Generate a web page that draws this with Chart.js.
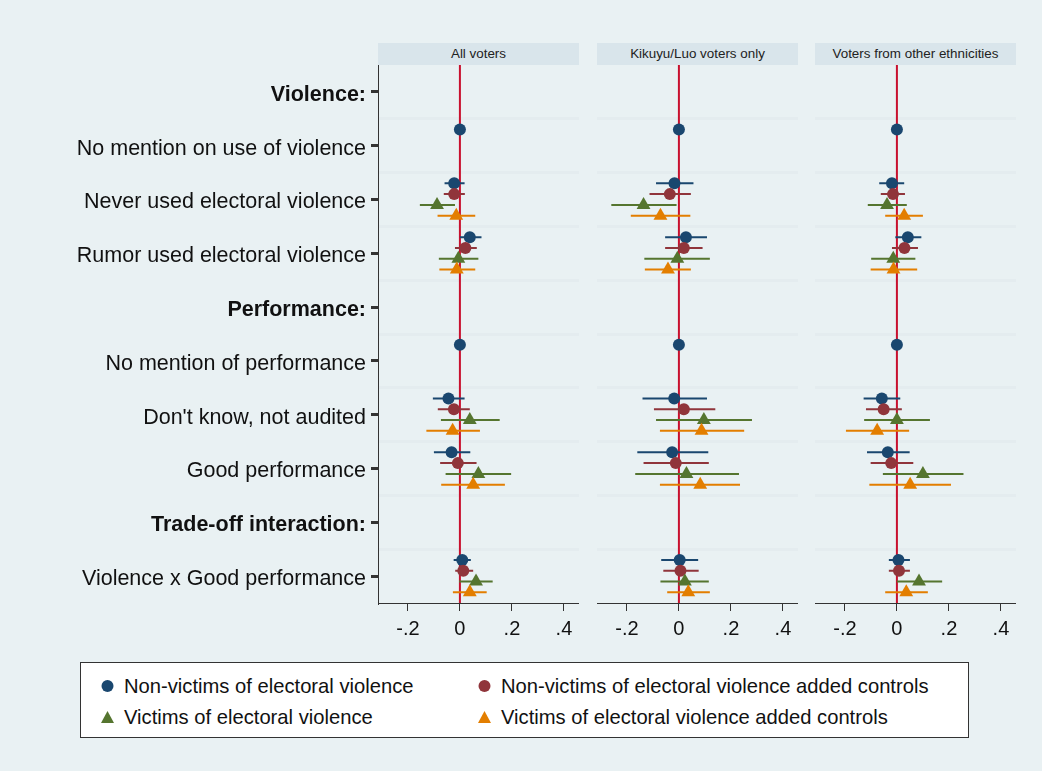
<!DOCTYPE html>
<html>
<head>
<meta charset="utf-8">
<script src="https://cdn.jsdelivr.net/npm/chart.js@4.4.1/dist/chart.umd.min.js"></script>
<style>
body { margin: 0; background: #e9f1f3; font-family: "Liberation Sans", Arial, sans-serif; }
#wrap { position: relative; width: 1042px; height: 771px; overflow: hidden; }
canvas { position: absolute; top: 65px; }
.head { position: absolute; top: 43px; height: 22px; line-height: 22px; width: 201px; background: #d9e5eb;
  text-align: center; font-size: 13.4px; color: #222; }
#legend { position: absolute; left: 80px; top: 662px; width: 887px; height: 74px; background: #fff; border: 1px solid #333; }
.item { position: absolute; height: 24px; line-height: 24px; font-size: 20.2px; color: #111; white-space: nowrap; }
.item svg { position: absolute; left: -23px; top: 6px; }
</style>
</head>
<body>
<div id="wrap">
  <div class="head" style="left:378px">All voters</div>
  <div class="head" style="left:597px">Kikuyu/Luo voters only</div>
  <div class="head" style="left:815px">Voters from other ethnicities</div>
  <canvas id="p1" width="579" height="578" style="left:0px"></canvas>
  <canvas id="p2" width="201" height="578" style="left:597px"></canvas>
  <canvas id="p3" width="201" height="578" style="left:815px"></canvas>
  <div id="legend"></div>
</div>
<script>
'use strict';

let rowLabels = ['Violence:', 'No mention on use of violence', 'Never used electoral violence', 'Rumor used electoral violence',
    'Performance:', 'No mention of performance', "Don't know, not audited", 'Good performance',
    'Trade-off interaction:', 'Violence x Good performance'];
let headerRows = [0, 4, 8];
let seriesNames = ['Non-victims of electoral violence', 'Non-victims of electoral violence added controls',
    'Victims of electoral violence', 'Victims of electoral violence added controls'];
let seriesColors = ['#1a476f', '#90353b', '#55752f', '#e37e00'];
let seriesShapes = ['circle', 'circle', 'triangle', 'triangle'];
let offsets = [-0.3, -0.1, 0.1, 0.3];
let xTicks = [-0.2, 0, 0.2, 0.4];
let xTickLabels = ['-.2', '0', '.2', '.4'];
let refValue = 0;

// All voters: [non-victims, non-victims ctrl, victims, victims ctrl]
let allEst = [
    [null, 0, -0.022, 0.038, null, 0, -0.044, -0.032, null, 0.009],
    [null, null, -0.022, 0.021, null, null, -0.023, -0.008, null, 0.013],
    [null, null, -0.088, -0.006, null, null, 0.038, 0.071, null, 0.062],
    [null, null, -0.014, -0.012, null, null, -0.028, 0.051, null, 0.038]];
let allLo = [
    [null, null, -0.059, 0.0, null, null, -0.104, -0.1, null, -0.024],
    [null, null, -0.062, -0.019, null, null, -0.085, -0.076, null, -0.018],
    [null, null, -0.154, -0.081, null, null, -0.073, -0.055, null, -0.003],
    [null, null, -0.086, -0.079, null, null, -0.129, -0.072, null, -0.027]];
let allHi = [
    [null, null, 0.018, 0.083, null, null, 0.018, 0.04, null, 0.042],
    [null, null, 0.019, 0.065, null, null, 0.038, 0.064, null, 0.051],
    [null, null, -0.019, 0.071, null, null, 0.153, 0.197, null, 0.126],
    [null, null, 0.059, 0.059, null, null, 0.077, 0.173, null, 0.103]];

// Kikuyu/Luo voters only
let kikEst = [
    [null, 0, -0.017, 0.027, null, 0, -0.018, -0.026, null, 0.003],
    [null, null, -0.035, 0.019, null, null, 0.019, -0.012, null, 0.006],
    [null, null, -0.136, -0.006, null, null, 0.096, 0.029, null, 0.023],
    [null, null, -0.071, -0.042, null, null, 0.087, 0.082, null, 0.036]];
let kikLo = [
    [null, null, -0.088, -0.053, null, null, -0.14, -0.16, null, -0.068],
    [null, null, -0.113, -0.053, null, null, -0.096, -0.136, null, -0.06],
    [null, null, -0.26, -0.133, null, null, -0.088, -0.168, null, -0.071],
    [null, null, -0.185, -0.131, null, null, -0.073, -0.073, null, -0.045]];
let kikHi = [
    [null, null, 0.056, 0.108, null, null, 0.108, 0.113, null, 0.074],
    [null, null, 0.046, 0.091, null, null, 0.14, 0.115, null, 0.076],
    [null, null, -0.009, 0.119, null, null, 0.281, 0.231, null, 0.115],
    [null, null, 0.044, 0.046, null, null, 0.251, 0.235, null, 0.119]];

// Voters from other ethnicities
let othEst = [
    [null, 0, -0.019, 0.042, null, 0, -0.058, -0.035, null, 0.006],
    [null, null, -0.015, 0.029, null, null, -0.051, -0.022, null, 0.008],
    [null, null, -0.038, -0.014, null, null, 0.0, 0.1, null, 0.085],
    [null, null, 0.028, -0.013, null, null, -0.076, 0.051, null, 0.036]];
let othLo = [
    [null, null, -0.068, -0.006, null, null, -0.128, -0.115, null, -0.031],
    [null, null, -0.062, -0.019, null, null, -0.119, -0.101, null, -0.031],
    [null, null, -0.112, -0.099, null, null, -0.126, -0.054, null, 0.0],
    [null, null, -0.045, -0.101, null, null, -0.196, -0.106, null, -0.045]];
let othHi = [
    [null, null, 0.028, 0.094, null, null, 0.013, 0.049, null, 0.05],
    [null, null, 0.031, 0.081, null, null, 0.019, 0.063, null, 0.05],
    [null, null, 0.038, 0.071, null, null, 0.127, 0.256, null, 0.174],
    [null, null, 0.1, 0.078, null, null, 0.047, 0.208, null, 0.119]];

let fontFamily = '"Liberation Sans", Arial, sans-serif';

let zeroLine = {
    id: 'zeroLine',
    beforeDatasetsDraw(chart) {
        let x = chart.scales.x.getPixelForValue(refValue);
        let ctx = chart.ctx;
        ctx.save();
        ctx.strokeStyle = '#c8102e';
        ctx.lineWidth = 2;
        ctx.beginPath();
        ctx.moveTo(x, chart.chartArea.top);
        ctx.lineTo(x, chart.chartArea.bottom);
        ctx.stroke();
        ctx.restore();
    }
};

function makeDatasets(est, lo, hi) {
    let sets = [];
    for (let s = 0; s < est.length; s++) {
        let ci = [];
        let pts = [];
        for (let r = 0; r < rowLabels.length; r++) {
            let y = r + 1 + offsets[s];
            if (est[s][r] !== null) pts.push({ x: est[s][r], y: y });
            if (lo[s][r] !== null) {
                ci.push({ x: lo[s][r], y: y }, { x: hi[s][r], y: y }, { x: hi[s][r], y: null });
            }
        }
        sets.push({
            data: ci, showLine: true, spanGaps: false, borderColor: seriesColors[s], borderWidth: 2,
            pointRadius: 0, order: 20 - s * 2
        });
        sets.push({
            data: pts, showLine: false, backgroundColor: seriesColors[s], borderColor: seriesColors[s], borderWidth: 0,
            pointStyle: seriesShapes[s], pointRadius: seriesShapes[s] === 'circle' ? 6 : 8, order: 19 - s * 2
        });
    }
    return sets;
}

function drawPanel(id, est, lo, hi, showLabels) {
    let ctx = document.getElementById(id).getContext('2d');
    new Chart(ctx, {
        type: 'scatter',
        data: { datasets: makeDatasets(est, lo, hi) },
        plugins: [zeroLine],
        options: {
            responsive: false,
            animation: false,
            devicePixelRatio: 1,
            layout: { padding: 0, autoPadding: false },
            plugins: { legend: { display: false }, tooltip: { enabled: false } },
            scales: {
                x: {
                    type: 'linear', min: -0.315, max: 0.458,
                    afterBuildTicks: (axis) => { axis.ticks = xTicks.map(v => ({ value: v })); },
                    ticks: {
                        callback: (v, i) => xTickLabels[i], color: '#111', padding: 6, maxRotation: 0, autoSkip: false,
                        font: { family: fontFamily, size: 20 }
                    },
                    grid: { drawOnChartArea: false, tickLength: 8, tickColor: '#333' },
                    border: { color: '#333', width: 1 },
                    afterFit: (axis) => { axis.height = 40; axis.paddingLeft = 0; axis.paddingRight = 0; }
                },
                y: {
                    type: 'linear', reverse: true, min: 0.5, max: rowLabels.length + 0.5,
                    afterBuildTicks: (axis) => {
                        let t = [];
                        for (let i = 1; i <= rowLabels.length * 2 + 1; i++) t.push({ value: i / 2 });
                        axis.ticks = t;
                    },
                    ticks: {
                        display: showLabels, autoSkip: false, padding: 5, color: '#111', labelOffset: 3,
                        callback: (v) => Number.isInteger(v) ? rowLabels[v - 1] : '',
                        font: (c) => ({
                            family: fontFamily, size: 21.5,
                            weight: c.tick && headerRows.includes(c.tick.value - 1) ? 'bold' : 'normal'
                        })
                    },
                    grid: {
                        lineWidth: 3, tickLength: 7, drawTicks: showLabels,
                        color: (c) => {
                            let v = c.tick ? c.tick.value : 0;
                            return (!Number.isInteger(v) && v > 0.5 && v < rowLabels.length + 0.5) ? '#e4ecef' : 'rgba(0,0,0,0)';
                        },
                        tickColor: (c) => (c.tick && Number.isInteger(c.tick.value)) ? '#333' : 'rgba(0,0,0,0)'
                    },
                    border: { display: showLabels, color: '#333', width: 1 },
                    afterFit: (axis) => { axis.width = showLabels ? 378 : 0; axis.paddingTop = 0; axis.paddingBottom = 0; }
                }
            }
        }
    });
}

drawPanel('p1', allEst, allLo, allHi, true);
drawPanel('p2', kikEst, kikLo, kikHi, false);
drawPanel('p3', othEst, othLo, othHi, false);

// legend
let legend = document.getElementById('legend');
let itemPos = [[43, 11], [420, 11], [43, 42], [420, 42]];
for (let s = 0; s < seriesNames.length; s++) {
    let div = document.createElement('div');
    div.className = 'item';
    div.style.left = itemPos[s][0] + 'px';
    div.style.top = itemPos[s][1] + 'px';
    let shape = seriesShapes[s] === 'circle'
        ? '<circle cx="6.5" cy="6" r="6" fill="' + seriesColors[s] + '"/>'
        : '<polygon points="6.5,0 13,12 0,12" fill="' + seriesColors[s] + '"/>';
    div.innerHTML = '<svg width="13" height="12" viewBox="0 0 13 12">' + shape + '</svg>' + seriesNames[s];
    legend.appendChild(div);
}
</script>
</body>
</html>
